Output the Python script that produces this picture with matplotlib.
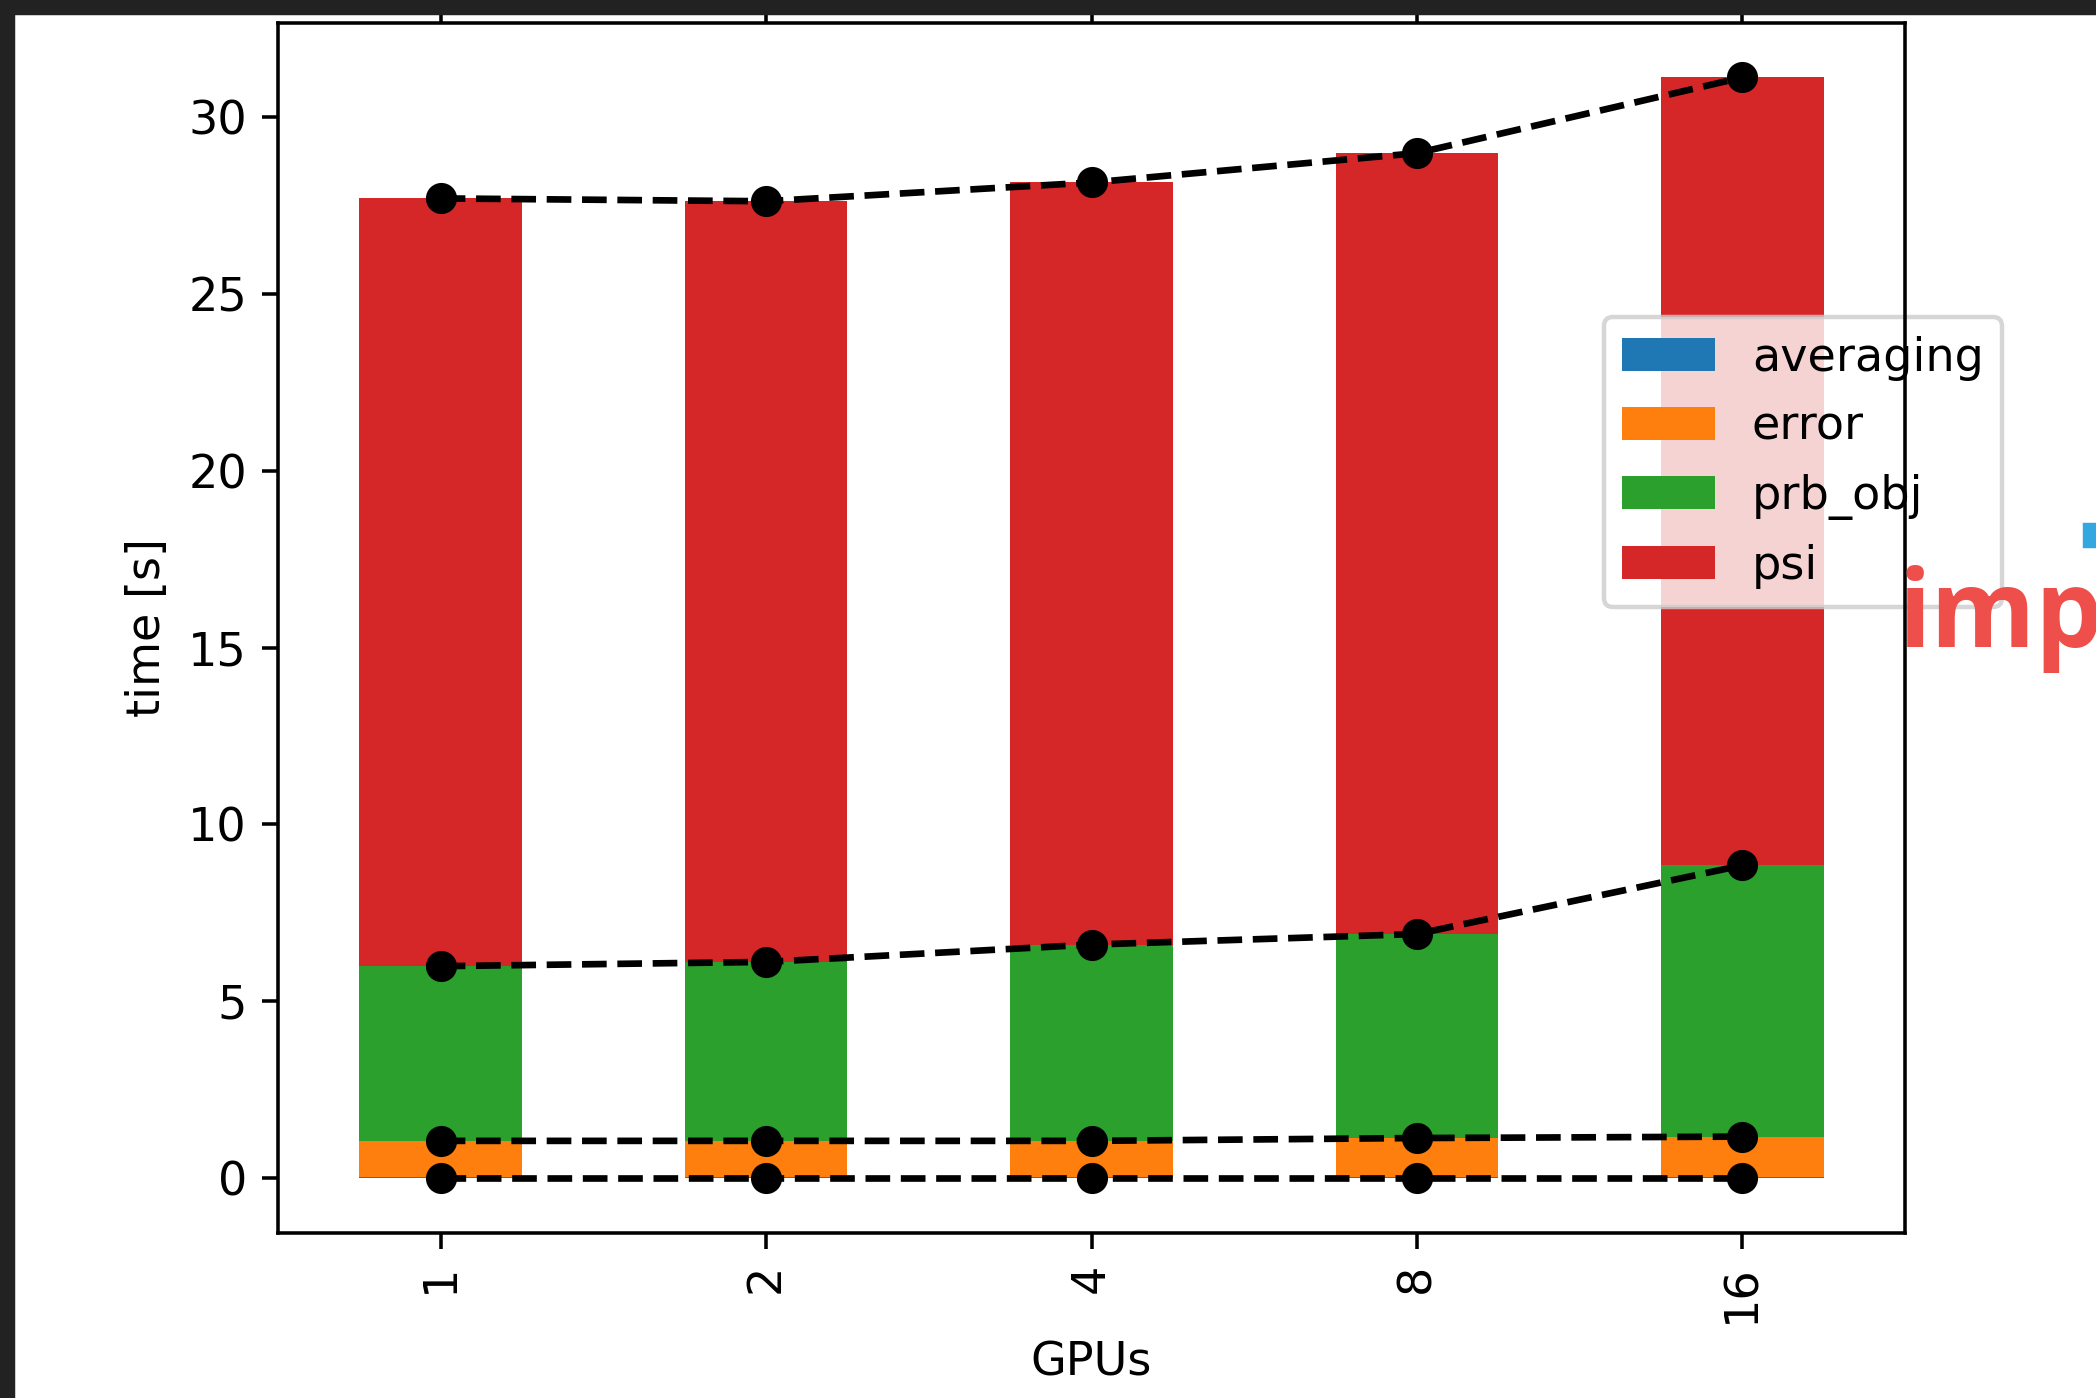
import numpy as np
import matplotlib
matplotlib.use("Agg")
import matplotlib.pyplot as plt
from matplotlib.patches import Rectangle

# Timing per stage (seconds), stacked bottom to top
gpus = ["1", "2", "4", "8", "16"]
averaging = [0.02, 0.02, 0.02, 0.02, 0.02]
error = [1.03, 1.03, 1.03, 1.11, 1.15]
prb_obj = [4.94, 5.06, 5.55, 5.77, 7.67]
psi = [21.71, 21.51, 21.55, 22.08, 22.28]

stages = ["averaging", "error", "prb_obj", "psi"]
colors = ["#1f77b4", "#ff7f0e", "#2ca02c", "#d62728"]

plt.rcParams["font.size"] = 10.4

W, H, DPI = 2096, 1398, 320
fig = plt.figure(figsize=(W / DPI, H / DPI), dpi=DPI)
ax = fig.add_axes([278 / W, 1 - 1233 / H, (1905 - 278) / W, (1233 - 23) / H])

x = np.arange(len(gpus))
data = np.array([averaging, error, prb_obj, psi])
bottom = np.zeros(len(gpus))
handles = []
for vals, name, c in zip(data, stages, colors):
    h = ax.bar(x, vals, width=0.5, bottom=bottom, color=c, label=name)
    handles.append(h)
    bottom = bottom + vals

# cumulative lines on top of the stacks (plus the zero baseline)
cum = np.vstack([np.zeros(len(gpus)), np.cumsum(data, axis=0)[1:]])
for row in cum:
    ax.plot(x, row, "ko--")

ax.set_xlim(-0.5, 4.5)
ax.set_ylim(-1.555, 32.66)
ax.set_xticks(x)
ax.set_xticklabels(gpus, rotation=90)
ax.set_xlabel("GPUs")
ax.set_ylabel("time [s]")
ax.tick_params(axis="x", top=True)

leg = ax.legend(handles, stages, loc="upper left", labelspacing=0.52,
                bbox_to_anchor=(0.815, 0.757), borderaxespad=0)
for sp in ax.spines.values():
    sp.set_zorder(6)

# screenshot surroundings
dark = "#222222"
fig.add_artist(Rectangle((0, 1 - 13 / H), 1, 13 / H, transform=fig.transFigure,
                         color=dark, zorder=10))
fig.add_artist(Rectangle((0, 0), 13 / W, 1, transform=fig.transFigure,
                         color=dark, zorder=10))
fig.add_artist(Rectangle((2085 / W, 1 - 546 / H), 11 / W, 21 / H,
                         transform=fig.transFigure, color="#33a7df", zorder=10))
fig.text(1898 / W, 1 - 647 / H, "imp", color="#ef4f4a", fontsize=24,
         family="Open Sans", fontweight="bold", ha="left", va="baseline", zorder=10)

fig.savefig("out.png", dpi=DPI)
